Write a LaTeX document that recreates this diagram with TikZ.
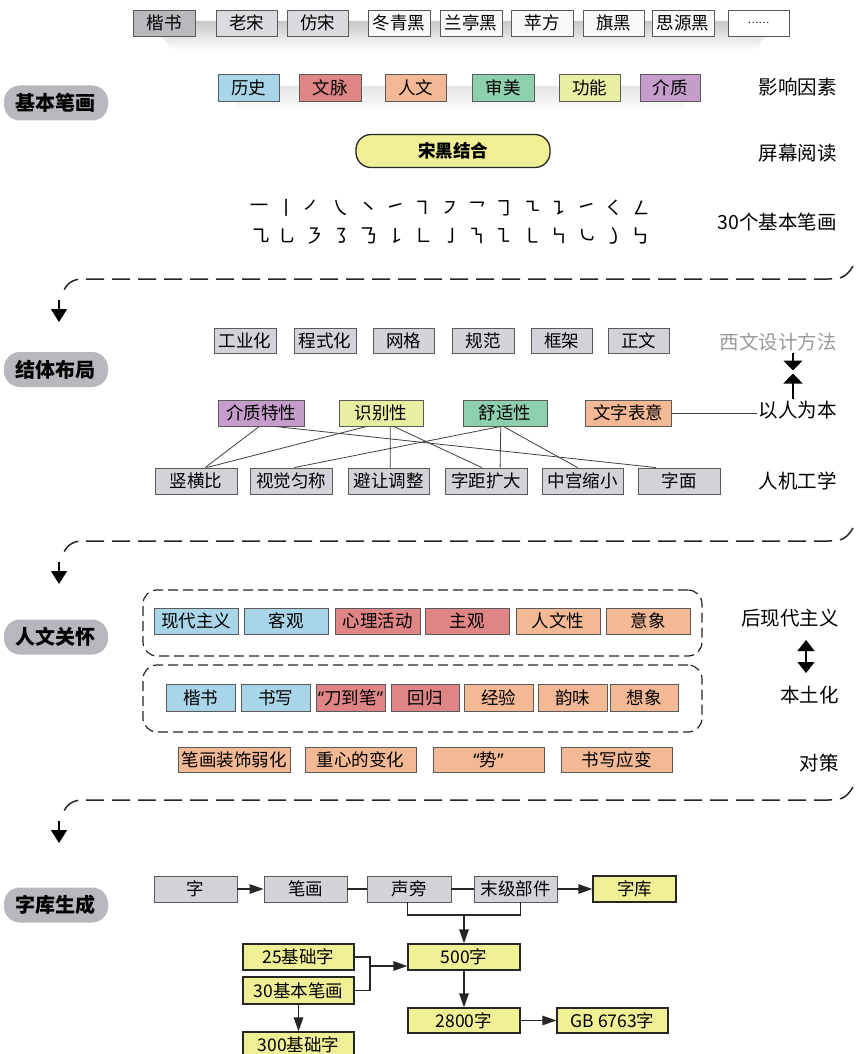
\documentclass[tikz,border=0pt]{standalone}
\usepackage{fontspec}
\setmainfont{Noto Sans CJK SC}
\newfontfamily\qfont{Noto Sans}
\usetikzlibrary{arrows.meta,calc}
\definecolor{bordc}{HTML}{5A5A5A}
\definecolor{grayc}{HTML}{D3D2D8}
\definecolor{kaic}{HTML}{B8B8BD}
\definecolor{songc}{HTML}{DADADF}
\definecolor{heic}{HTML}{F8F8F8}
\definecolor{bluec}{HTML}{A8D5E8}
\definecolor{redc}{HTML}{E08585}
\definecolor{peachc}{HTML}{F3B894}
\definecolor{greenc}{HTML}{8ECFAF}
\definecolor{ygc}{HTML}{E8EEA2}
\definecolor{purpc}{HTML}{C59DCB}
\definecolor{yelc}{HTML}{EFEF96}
\definecolor{pillc}{HTML}{B9B6BD}
\definecolor{lgray}{HTML}{9A9A9A}
\newcommand\boxfont{\fontsize{17.5}{19}\selectfont}
\newcommand\lblfont{\fontsize{19.5}{21}\selectfont}
\newcommand\pillfont{\fontsize{20}{22}\selectfont\bfseries}
\newcommand\strokefont{\fontsize{20}{20}\selectfont}
\newcommand\myopenq{{\qfont “}}
\newcommand\myclosq{{\qfont ”}}
\begin{document}
\begin{tikzpicture}[x=1pt,y=-1pt,
  bx/.style={draw=bordc, line width=0.9pt, inner sep=0pt, minimum height=26pt, font=\boxfont, text=black},
  ybx/.style={draw=black!85, line width=1.3pt, fill=yelc, inner sep=0pt, minimum height=26pt, font=\boxfont, text=black},
  pill/.style={fill=pillc, rounded corners=16pt, minimum width=104pt, minimum height=35pt, inner sep=0pt, font=\pillfont},
  lbl/.style={anchor=east, font=\lblfont, inner sep=2pt},
  ln/.style={draw=black!85, line width=1.3pt},
  arr/.style={ln, -{Triangle[length=14pt,width=9.5pt]}},
  thinln/.style={draw=black!75, line width=0.8pt},
  dsh/.style={draw=black!85, line width=1.5pt, dash pattern=on 18pt off 8pt},
  bigarr/.style={draw=black, line width=1.5pt, -{Triangle[length=13pt,width=16pt]}},
  dbox/.style={draw=black!85, line width=1.2pt, dash pattern=on 10pt off 5pt, rounded corners=14pt, inner sep=0pt},
  strk/.style={font=\strokefont, inner sep=0pt}
]
\useasboundingbox (0,0) rectangle (855,1054);
\fill[white] (0,0) rectangle (855,1054);

% ---------- shadows ----------
\shade[top color=black!22, bottom color=white] (150,21) -- (776,21) -- (756,50) -- (172,50) -- cycle;
\shade[top color=black!10, bottom color=white] (225,86) -- (695,86) -- (678,112) -- (242,112) -- cycle;

% ---------- top row ----------
\node[bx, fill=kaic,  minimum width=62pt] (f1) at (164,23) {楷书};
\node[bx, fill=songc, minimum width=61pt] (f2) at (246.5,23) {老宋};
\node[bx, fill=songc, minimum width=61pt] (f3) at (317.5,23) {仿宋};
\node[bx, fill=heic,  minimum width=62pt] (f4) at (399,23) {冬青黑};
\node[bx, fill=heic,  minimum width=62pt] (f5) at (471,23) {兰亭黑};
\node[bx, fill=heic,  minimum width=62pt] (f6) at (542,23) {苹方};
\node[bx, fill=heic,  minimum width=61pt] (f7) at (613.5,23) {旗黑};
\node[bx, fill=heic,  minimum width=62pt] (f8) at (683,23) {思源黑};
\node[bx, fill=white, minimum width=61pt] (f9) at (758.5,23) {\fontsize{10}{10}\selectfont ……};

% ---------- section 1 ----------
\node[pill] (p1) at (56,103) {基本笔画};
\node[bx, fill=bluec,  minimum width=61pt, minimum height=27pt] (a1) at (248.5,87.5) {历史};
\node[bx, fill=redc,   minimum width=62pt, minimum height=27pt] (a2) at (330,87.5) {文脉};
\node[bx, fill=peachc, minimum width=61pt, minimum height=27pt] (a3) at (415.5,87.5) {人文};
\node[bx, fill=greenc, minimum width=62pt, minimum height=27pt] (a4) at (503,87.5) {审美};
\node[bx, fill=ygc,    minimum width=61pt, minimum height=27pt] (a5) at (589.5,87.5) {功能};
\node[bx, fill=purpc,  minimum width=60pt, minimum height=27pt] (a6) at (670,87.5) {介质};
\node[lbl] (l1) at (839,87) {影响因素};

\node[fill=yelc, draw=black!85, line width=1.3pt, rounded corners=15pt, minimum width=194pt, minimum height=33pt, inner sep=0pt, font=\boxfont\bfseries] (sh) at (453,151) {宋黑结合};
\node[lbl] (l2) at (839,153) {屏幕阅读};

\foreach \g [count=\i from 0] in {㇐,㇑,㇒,㇏,㇔,㇀,㇕,㇇,㇖,㇆,㇍,㇊,㇀,㇛,㇜}
  \node[strk] (sa\i) at (259+27.3*\i,208) {\g};
\foreach \g [count=\i from 0] in {㇈,㇟,㇋,㇌,㇡,㇙,㇗,㇚,㇎,㇅,㇄,㇞,㇃,㇁,㇉}
  \node[strk] (sb\i) at (260+27.2*\i,236) {\g};
\node[lbl] (l3) at (839,222) {30个基本笔画};

% dashed link 1
\draw[dsh] (853,266) .. controls (846,278) and (840,279) .. (828,279) -- (82,279) .. controls (72,279) and (65,285) .. (63,293);
\coordinate (ar1a) at (59,300);
\coordinate (ar1b) at (59,322);
\draw[bigarr] (ar1a) -- (ar1b);

% ---------- section 2 ----------
\node[pill] (p2) at (56,369.5) {结体布局};
\node[bx, fill=grayc, minimum width=62pt, minimum height=25pt] (b1) at (245,340.5) {工业化};
\node[bx, fill=grayc, minimum width=62pt, minimum height=25pt] (b2) at (325,340.5) {程式化};
\node[bx, fill=grayc, minimum width=61pt, minimum height=25pt] (b3) at (403.5,340.5) {网格};
\node[bx, fill=grayc, minimum width=62pt, minimum height=25pt] (b4) at (483,340.5) {规范};
\node[bx, fill=grayc, minimum width=61pt, minimum height=25pt] (b5) at (561.5,340.5) {框架};
\node[bx, fill=grayc, minimum width=61pt, minimum height=25pt] (b6) at (638.5,340.5) {正文};
\node[lbl, text=lgray] (xw) at (839,342) {西文设计方法};
\node[lbl] (yrb) at (839,410) {以人为本};
\coordinate (mid) at (793,372);
\draw[draw=black, line width=1.3pt, -{Triangle[length=10pt,width=19pt]}] (xw.south -| mid) -- ([yshift=1.5pt]mid);
\draw[draw=black, line width=1.3pt, -{Triangle[length=10pt,width=19pt]}] (yrb.north -| mid) -- ([yshift=-1.5pt]mid);

\node[bx, fill=purpc,  minimum width=86pt] (c1) at (261,413) {介质特性};
\node[bx, fill=ygc,    minimum width=84pt] (c2) at (381,413) {识别性};
\node[bx, fill=greenc, minimum width=84pt] (c3) at (505,413) {舒适性};
\node[bx, fill=peachc, minimum width=86pt] (c4) at (628,413) {文字表意};
\draw[thinln] (c4.east) -- (c4.east -| yrb.west);

\node[bx, fill=grayc, minimum width=82pt] (d1) at (196,481) {竖横比};
\node[bx, fill=grayc, minimum width=82pt] (d2) at (291,481) {视觉匀称};
\node[bx, fill=grayc, minimum width=81pt] (d3) at (388.5,481) {避让调整};
\node[bx, fill=grayc, minimum width=82pt] (d4) at (486,481) {字距扩大};
\node[bx, fill=grayc, minimum width=81pt] (d5) at (582.5,481) {中宫缩小};
\node[bx, fill=grayc, minimum width=82pt] (d6) at (679,481) {字面};
\node[lbl] (l4) at (839,481) {人机工学};

\draw[thinln] ($(c1.south west)!0.48!(c1.south east)$) -- ($(d1.north west)!0.61!(d1.north east)$);
\draw[thinln] ($(c1.south west)!0.66!(c1.south east)$) -- ($(d6.north west)!0.22!(d6.north east)$);
\draw[thinln] ($(c2.south west)!0.33!(c2.south east)$) -- ($(d1.north west)!0.63!(d1.north east)$);
\draw[thinln] ($(c2.south west)!0.61!(c2.south east)$) -- ($(d3.north west)!0.52!(d3.north east)$);
\draw[thinln] ($(c2.south west)!0.65!(c2.south east)$) -- ($(d4.north west)!0.45!(d4.north east)$);
\draw[thinln] ($(c3.south west)!0.45!(c3.south east)$) -- ($(d2.north west)!0.54!(d2.north east)$);
\draw[thinln] ($(c3.south west)!0.45!(c3.south east)$) -- ($(d4.north west)!0.67!(d4.north east)$);
\draw[thinln] ($(c3.south west)!0.48!(c3.south east)$) -- ($(d5.north west)!0.44!(d5.north east)$);

% dashed link 2
\draw[dsh] (853,528) .. controls (846,540) and (840,541) .. (828,541) -- (82,541) .. controls (72,541) and (65,547) .. (63,555);
\coordinate (ar2a) at (59,562);
\coordinate (ar2b) at (59,584);
\draw[bigarr] (ar2a) -- (ar2b);

% ---------- section 3 ----------
\node[pill] (p3) at (56,637) {人文关怀};
\node[dbox, minimum width=559pt, minimum height=66pt] (g1) at (422.5,623) {};
\node[dbox, minimum width=559pt, minimum height=67pt] (g2) at (422.5,698.5) {};
\node[bx, fill=bluec,  minimum width=84pt] (e1) at (196,621) {现代主义};
\node[bx, fill=bluec,  minimum width=84pt] (e2) at (286,621) {客观};
\node[bx, fill=redc,   minimum width=85pt] (e3) at (377.5,621) {心理活动};
\node[bx, fill=redc,   minimum width=84pt] (e4) at (467,621) {主观};
\node[bx, fill=peachc, minimum width=84pt] (e5) at (558,621) {人文性};
\node[bx, fill=peachc, minimum width=84pt] (e6) at (648,621) {意象};
\node[lbl] (l5) at (841,618) {后现代主义};
\coordinate (dv1) at (806,640);
\coordinate (dv2) at (806,673);
\draw[draw=black, line width=1.4pt, {Triangle[length=11pt,width=17pt]}-{Triangle[length=11pt,width=17pt]}] (dv1) -- (dv2);
\node[lbl] (l6) at (841,695) {本土化};

\node[bx, fill=bluec,  minimum width=69pt, minimum height=27pt] (h1) at (200.5,697.5) {楷书};
\node[bx, fill=bluec,  minimum width=69pt, minimum height=27pt] (h2) at (275.5,697.5) {书写};
\node[bx, fill=redc,   minimum width=69pt, minimum height=27pt] (h3) at (350.5,697.5) {\myopenq 刀到笔\myclosq};
\node[bx, fill=redc,   minimum width=68pt, minimum height=27pt] (h4) at (425,697.5) {回归};
\node[bx, fill=peachc, minimum width=69pt, minimum height=27pt] (h5) at (498.5,697.5) {经验};
\node[bx, fill=peachc, minimum width=69pt, minimum height=27pt] (h6) at (572.5,697.5) {韵味};
\node[bx, fill=peachc, minimum width=68pt, minimum height=27pt] (h7) at (644,697.5) {想象};

\node[bx, fill=peachc, minimum width=112pt, minimum height=25pt] (k1) at (234,759.5) {笔画装饰弱化};
\node[bx, fill=peachc, minimum width=111pt, minimum height=25pt] (k2) at (360.5,759.5) {重心的变化};
\node[bx, fill=peachc, minimum width=111pt, minimum height=25pt] (k3) at (488.5,759.5) {\myopenq 势\myclosq};
\node[bx, fill=peachc, minimum width=111pt, minimum height=25pt] (k4) at (616.5,759.5) {书写应变};
\node[lbl] (l7) at (841,763) {对策};

% dashed link 3
\draw[dsh] (853,787) .. controls (846,799) and (840,800) .. (828,800) -- (82,800) .. controls (72,800) and (65,806) .. (63,814);
\coordinate (ar3a) at (59,821);
\coordinate (ar3b) at (59,843);
\draw[bigarr] (ar3a) -- (ar3b);

% ---------- section 4 ----------
\node[pill] (p4) at (56,905) {字库生成};
\node[bx, fill=grayc, minimum width=83pt] (z1) at (195.5,889) {字};
\node[bx, fill=grayc, minimum width=83pt] (z2) at (305.5,889) {笔画};
\node[bx, fill=grayc, minimum width=84pt] (z3) at (409,889) {声旁};
\node[bx, fill=grayc, minimum width=83pt] (z4) at (515.5,889) {末级部件};
\node[ybx, minimum width=83pt] (z5) at (634.5,889) {字库};
\draw[arr] (z1.east) -- (z2.west);
\draw[ln] (z2.east) -- (z3.west);
\draw[ln] (z3.east) -- (z4.west);
\draw[arr] (z4.east) -- (z5.west);

\node[ybx, minimum width=111pt] (j25) at (298.5,957) {25基础字};
\node[ybx, minimum width=111pt, minimum height=27pt] (j30) at (298.5,990.5) {30基本笔画};
\node[ybx, minimum width=111pt] (j300) at (298.5,1045) {300基础字};
\node[ybx, minimum width=112pt] (w500) at (464,957) {500字};
\node[ybx, minimum width=112pt, minimum height=25pt] (w2800) at (464,1020.5) {2800字};
\node[ybx, minimum width=111pt, minimum height=25pt] (gb) at (612.5,1020.5) {GB 6763字};

\coordinate (br) at (464,915);
\draw[ln] ($(z3.south west)!0.48!(z3.south east)$) |- (br) -| ($(z4.south west)!0.56!(z4.south east)$);
\draw[arr] (br) -- (w500.north);
\coordinate (bj) at (370,966);
\draw[ln] (j25.east) -| (bj) |- (j30.east);
\draw[arr] (bj) -- (bj -| w500.west);
\draw[arr] (j30.south) -- (j300.north);
\draw[arr] (w500.south) -- (w2800.north);
\draw[arr] (w2800.east) -- (gb.west);
\end{tikzpicture}
\end{document}
